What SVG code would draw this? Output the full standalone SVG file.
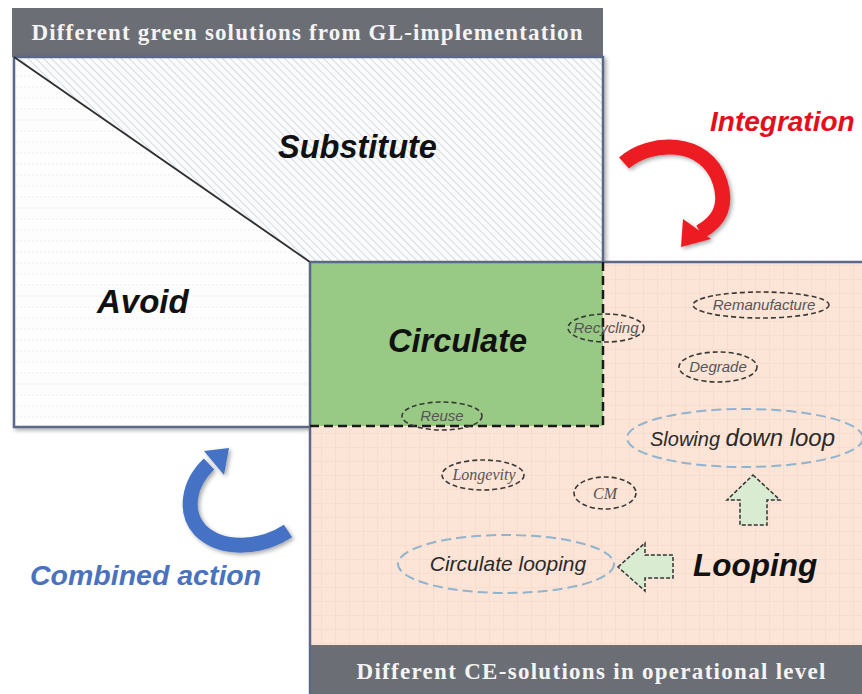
<svg xmlns="http://www.w3.org/2000/svg" width="862" height="694" viewBox="0 0 862 694">
<defs>
<pattern id="hatch" width="5.5" height="5.5" patternUnits="userSpaceOnUse" patternTransform="rotate(-45)">
<rect width="5.5" height="5.5" fill="#fafbfd"/>
<line x1="0" y1="0" x2="0" y2="5.5" stroke="#d2d3d8" stroke-width="1.6"/>
</pattern>
<pattern id="lines" width="12" height="11" patternUnits="userSpaceOnUse">
<rect width="12" height="11" fill="#fdfdfe"/>
<line x1="0" y1="10" x2="12" y2="10" stroke="#eeeef2" stroke-width="1" stroke-dasharray="2,2"/>
</pattern>
<pattern id="grid" width="14" height="14" patternUnits="userSpaceOnUse">
<rect width="14" height="14" fill="#fce4d7"/>
<path d="M0 13.5H14M13.5 0V14" stroke="#f8ddcf" stroke-width="1"/>
</pattern>
<filter id="sh" x="-20%" y="-20%" width="140%" height="140%">
<feGaussianBlur in="SourceAlpha" stdDeviation="2"/>
<feOffset dx="2" dy="2"/>
<feComponentTransfer><feFuncA type="linear" slope="0.35"/></feComponentTransfer>
<feMerge><feMergeNode/><feMergeNode in="SourceGraphic"/></feMerge>
</filter>
</defs>
<style>
.hdr{fill:#6b6e74}
.hdrt{font-family:"Liberation Serif",serif;font-weight:bold;fill:#f4f4f4;font-size:23px}
.big{font-family:"Liberation Sans",Arial,sans-serif;font-weight:bold;font-style:italic;fill:#111}
.frame{fill:none;stroke:#5b6888;stroke-width:2.5}
.dash{fill:none;stroke:#1a1a1a;stroke-width:2.5;stroke-dasharray:9,5}
.el{fill:none;stroke:#3a3a3a;stroke-width:1.6;stroke-dasharray:5,3}
.elb{fill:none;stroke:#8fb4cf;stroke-width:2;stroke-dasharray:10,5}
.sm{font-family:"Liberation Sans",Arial,sans-serif;font-style:italic;fill:#555;font-size:15px}
.smr{font-family:"Liberation Serif",serif;font-style:italic;fill:#555;font-size:16px}
.mid{font-family:"Liberation Sans",Arial,sans-serif;font-style:italic;fill:#2a2a2a}
.blk{fill:#d9ecd2;stroke:#333;stroke-width:1.5;stroke-dasharray:4,2}
</style>

<g id="gl-header">
<rect class="hdr" x="12" y="8" width="591" height="49"/>
<text class="hdrt" x="307" y="40" text-anchor="middle" textLength="551" lengthAdjust="spacing">Different green solutions from GL-implementation</text>
</g>

<g id="gl-box" filter="url(#sh)">
<polygon points="14,57 603,57 603,262 310,262" fill="url(#hatch)"/>
<polygon points="14,57 310,262 310,427 14,427" fill="url(#lines)"/>
<polyline class="frame" points="603,262 603,57 14,57 14,427 310,427"/>
<line x1="14" y1="57" x2="310" y2="262" stroke="#2e2e2e" stroke-width="1.8"/>
</g>

<g id="ce-box">
<rect x="310" y="262" width="552" height="383" fill="url(#grid)"/>
<rect x="311" y="263" width="292" height="163" fill="#98c985"/>
<line class="frame" x1="310" y1="262" x2="862" y2="262"/>
<line class="frame" x1="310" y1="262" x2="310" y2="694"/>
</g>

<g id="ce-header">
<rect class="hdr" x="311" y="645" width="551" height="49"/>
<text class="hdrt" x="591" y="679" text-anchor="middle" textLength="469" lengthAdjust="spacing">Different  CE-solutions in operational level</text>
</g>

<g id="circulate-border">
<polyline class="dash" points="603,262 603,426 310,426"/>
</g>

<g id="substitute"><text class="big" x="278" y="158" font-size="32.5">Substitute</text></g>
<g id="avoid"><text class="big" x="97" y="313" font-size="33">Avoid</text></g>
<g id="circulate"><text class="big" x="388" y="352" font-size="32.5">Circulate</text></g>

<g id="recycling"><ellipse class="el" cx="606" cy="328" rx="38" ry="14"/><text class="sm" x="606" y="333" text-anchor="middle">Recycling</text></g>
<g id="remanufacture"><ellipse class="el" cx="761" cy="305" rx="68" ry="13"/><text class="sm" x="764" y="310" text-anchor="middle" font-size="15.5">Remanufacture</text></g>
<g id="degrade"><ellipse class="el" cx="718" cy="367" rx="39" ry="15"/><text class="sm" x="718" y="372" text-anchor="middle">Degrade</text></g>
<g id="reuse"><ellipse class="el" cx="442" cy="416" rx="40" ry="14"/><text class="sm" x="442" y="421" text-anchor="middle" font-size="13">Reuse</text></g>
<g id="longevity"><ellipse class="el" cx="483" cy="475" rx="41" ry="15"/><text class="smr" x="484" y="480" text-anchor="middle">Longevity</text></g>
<g id="cm"><ellipse class="el" cx="605" cy="493" rx="31" ry="16"/><text class="smr" x="605" y="499" text-anchor="middle">CM</text></g>

<g id="slowing"><ellipse class="elb" cx="745" cy="438" rx="118" ry="29"/>
<text class="mid" x="650" y="446"><tspan font-size="20">Slowing </tspan><tspan font-size="24">down loop</tspan></text></g>
<g id="circulate-looping"><ellipse class="elb" cx="506" cy="564" rx="108" ry="29"/>
<text class="mid" x="508" y="571" text-anchor="middle" font-size="21">Circulate looping</text></g>

<g id="looping"><text class="big" x="693" y="576" font-size="31.5">Looping</text></g>
<g id="integration"><text class="big" x="710" y="131" font-size="28" style="fill:#e3101c">Integration</text></g>
<g id="combined"><text class="big" x="30" y="585" font-size="28.5" style="fill:#4a72bf">Combined action</text></g>

<g id="connectors">
<g filter="url(#sh)">
<path d="M624,163 C650,140 706,138 720,182 C728,207 718,222 700,232" fill="none" stroke="#ec1c24" stroke-width="15"/>
<polygon points="681,247 683,219 711,239" fill="#ec1c24"/>
<path d="M288,531 C262,548 222,552 200,530 C184,512 188,484 209,464" fill="none" stroke="#4472c4" stroke-width="15"/>
<polygon points="229,448 204,451 224,475" fill="#4472c4"/>
</g>
<polygon class="blk" points="753,475 780,500 767,500 767,525 740,525 740,500 727,500"/>
<polygon class="blk" points="618,567 645,543 645,555 673,555 673,578 645,578 645,591"/>
</g>
</svg>
